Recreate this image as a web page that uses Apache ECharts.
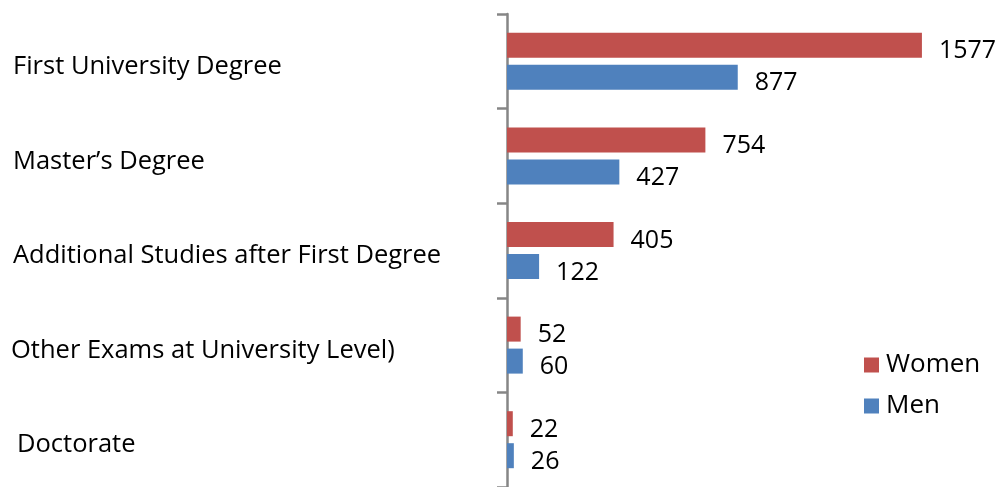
<!DOCTYPE html>
<html><head><meta charset="utf-8">
<script src="https://cdn.jsdelivr.net/npm/echarts@6/dist/echarts.min.js"></script>
<style>html,body{margin:0;padding:0;background:#fff}#c{width:1001px;height:487px}</style>
</head><body><div id="c"></div>
<script>
const categories = ["First University Degree", "Master\u2019s Degree", "Additional Studies after First Degree", "Other Exams at University Level)", "Doctorate"];
const women = [1577, 754, 405, 52, 22];
const men = [877, 427, 122, 60, 26];
const seriesNames = ["Women", "Men"];

const FONT = "Open Sans";
const chart = echarts.init(document.getElementById('c'), null, {renderer: 'canvas'});
const labelCfg = {show: true, position: 'right', distance: 17, offset: [0, 6], color: '#000', fontFamily: FONT, fontSize: 25};
const catText = {color: '#000', fontFamily: FONT, fontSize: 25.5};
const leftPad = [2, 2, 2, 0, 6];
chart.setOption({
  animation: false,
  textStyle: {fontFamily: FONT},
  grid: {left: 507, top: 14, width: 473.6, height: 477.5, containLabel: false},
  xAxis: {type: 'value', min: 0, max: 1800, show: false},
  yAxis: {
    type: 'category', data: categories, inverse: true,
    axisLine: {show: true, lineStyle: {color: '#868686', width: 2.5}},
    axisTick: {show: true, length: 10, lineStyle: {color: '#868686', width: 2.5}},
    axisLabel: {
      align: 'left', margin: 496, color: '#000', fontFamily: FONT, fontSize: 25.5, padding: [11, 0, 0, 0],
      formatter: function (v, i) { return '{p' + i + '|' + v + '}'; },
      rich: {
        p0: Object.assign({padding: [0, 0, 0, leftPad[0]]}, catText),
        p1: Object.assign({padding: [0, 0, 0, leftPad[1]]}, catText),
        p2: Object.assign({padding: [0, 0, 0, leftPad[2]]}, catText),
        p3: Object.assign({padding: [0, 0, 0, leftPad[3]]}, catText),
        p4: Object.assign({padding: [0, 0, 0, leftPad[4]]}, catText)
      }
    },
    splitLine: {show: false}
  },
  legend: {
    orient: 'vertical', left: 864, top: 352, padding: 0, itemWidth: 15, itemHeight: 15, itemGap: 15,
    icon: 'rect', data: seriesNames,
    textStyle: {color: '#000', fontFamily: FONT, fontSize: 26, padding: [0, 0, 0, 2]}
  },
  series: [
    {name: seriesNames[0], type: 'bar', data: women, barWidth: 25, barGap: '28%', itemStyle: {color: '#C0504D'}, label: labelCfg},
    {name: seriesNames[1], type: 'bar', data: men, barWidth: 25, barGap: '28%', itemStyle: {color: '#4F81BD'}, label: labelCfg}
  ]
});
</script></body></html>
